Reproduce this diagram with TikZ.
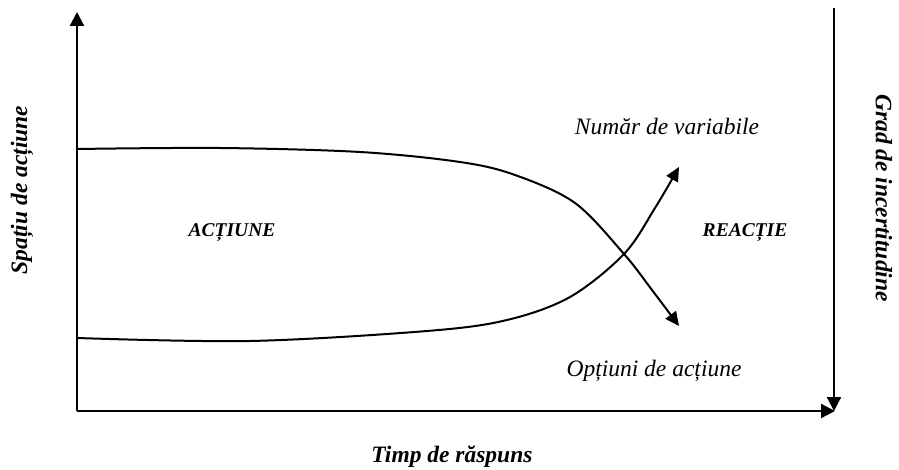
\documentclass[tikz,border=0pt]{standalone}
\usepackage{fontspec}
\setmainfont{Liberation Serif}
\usetikzlibrary{arrows.meta}
\tikzset{
  axis/.style={line width=2.2pt, -{Triangle[length=14pt,width=14pt]}},
  curve/.style={line width=2pt, -{Triangle[length=14pt,width=13pt]}},
  axlabel/.style={font=\fontsize{23.5}{28}\selectfont\bfseries\itshape, inner sep=0pt},
  region/.style={font=\fontsize{19.5}{24}\selectfont\bfseries\itshape, inner sep=0pt},
  clabel/.style={font=\fontsize{23.5}{28}\selectfont\itshape, inner sep=0pt}
}
\begin{document}
\begin{tikzpicture}[x=1pt,y=-1pt]
\useasboundingbox (0,0) rectangle (899,470);
% axes
\coordinate (O) at (77,411);
\coordinate (Ytop) at (77,12);
\coordinate (Xend) at (835,411);
\coordinate (Rtop) at (834,8);
\coordinate (Rbot) at (834,411);
\draw[axis] (O) -- (Ytop);
\draw[axis] (O) -- (Xend);
\draw[axis] (Rtop) -- (Rbot);
% curves
\draw[curve] plot[smooth, tension=0.55] coordinates {(77,149) (220,148) (360,152) (460,162) (515,175) (575,203) (624,254) (652,290) (679,326)};
\draw[curve] plot[smooth, tension=0.55] coordinates {(77,338) (250,341) (427,331) (507,320) (570,297) (624,254) (655,208) (679,167)};
% labels
\node[axlabel, rotate=90] (ylab) at (22,190) {Spațiu de acțiune};
\node[axlabel, rotate=-90] (rlab) at (884,198) {Grad de incertitudine};
\node[axlabel] (xlab) at (452,457) {Timp de răspuns};
\node[region] (act) at (232,233) {ACȚIUNE};
\node[region] (rea) at (745,233) {REACȚIE};
\node[clabel] (nv) at (667,126) {Număr de variabile};
\node[clabel] (oa) at (654,371) {Opțiuni de acțiune};
\end{tikzpicture}
\end{document}
